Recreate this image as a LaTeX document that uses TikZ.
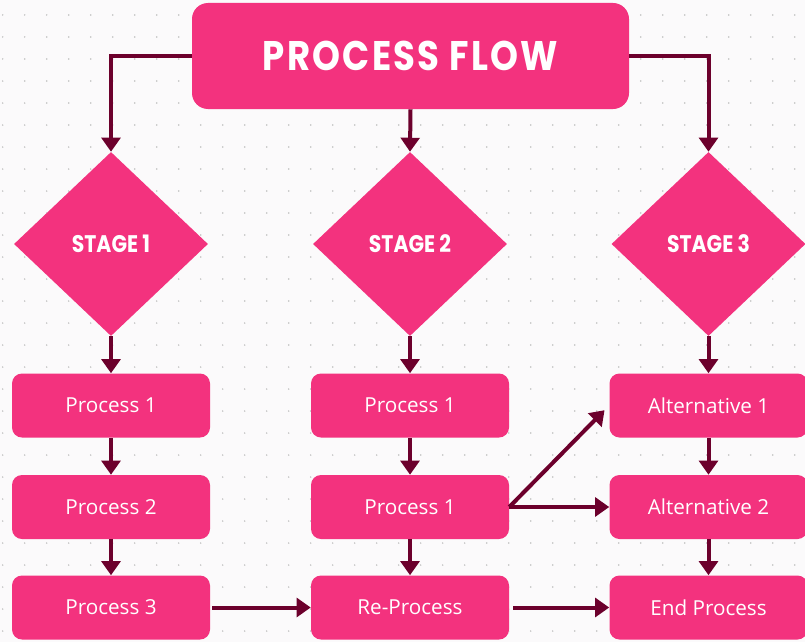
\documentclass[tikz,border=0pt]{standalone}
\usepackage{fontspec}
\usepackage{graphicx}
\setmainfont{Open Sans}
\newfontfamily\titlefont{Poppins}
\usetikzlibrary{shapes.geometric,arrows.meta}
\definecolor{pinkbox}{RGB}{243,50,126}
\definecolor{maroon}{RGB}{108,0,44}
\definecolor{bgcol}{RGB}{251,250,251}
\definecolor{dotcol}{RGB}{190,190,190}
\tikzset{
  procbox/.style={draw=none,fill=pinkbox,rounded corners=7.5pt,minimum width=148.5pt,minimum height=48pt,inner sep=0pt,text=white,font=\fontsize{15.5}{18}\selectfont},
  stagebox/.style={diamond,draw=none,fill=pinkbox,minimum width=145.5pt,minimum height=138pt,inner sep=0pt,text=white,font=\titlefont\bfseries\fontsize{18}{20}\selectfont},
  titlebox/.style={draw=none,fill=pinkbox,rounded corners=12pt,minimum width=327.75pt,minimum height=79.5pt,inner sep=0pt,text=white,font=\titlefont\bfseries\fontsize{31}{34}\selectfont},
  conn/.style={draw=maroon,line width=3pt,-{Triangle[width=14pt,length=10.5pt]}}
}
\begin{document}
\begin{tikzpicture}[x=0.75pt,y=-0.75pt]
\useasboundingbox (0,0) rectangle (805,642);
\fill[bgcol] (0,0) rectangle (805,642);
\foreach \i in {0,...,36}{
  \foreach \j in {0,...,28}{
    \fill[dotcol] ({2.7+22*\i},{15+22*\j}) circle (0.8);
  }
}
\node[titlebox] (title) at (410.5,56) {\scalebox{0.86}[1]{P\kern2pt R\kern2pt O\kern2pt C\kern2pt E\kern2pt S\kern2pt S\kern2pt\ F\kern2pt L\kern2pt O\kern2pt W}};
\node[stagebox] (d1) at (111,244) {\raisebox{-1pt}{\scalebox{0.85}[1]{STAGE 1}}};
\node[stagebox] (d2) at (410,244) {\raisebox{-1pt}{\scalebox{0.85}[1]{STAGE 2}}};
\node[stagebox] (d3) at (708.5,244) {\raisebox{-1pt}{\scalebox{0.85}[1]{STAGE 3}}};
\node[procbox] (a1) at (111,405.5) {Process 1};
\node[procbox] (a2) at (111,507) {Process 2};
\node[procbox] (a3) at (111,607.5) {Process 3};
\node[procbox] (b1) at (410,405.5) {Process 1};
\node[procbox] (b2) at (410,507) {Process 1};
\node[procbox] (b3) at (410,607.5) {Re-Process};
\node[procbox] (c1) at (708.5,405.5) {Alternative 1};
\node[procbox] (c2) at (708.5,507) {Alternative 2};
\node[procbox] (c3) at (708.5,607.5) {End Process};
\draw[conn] (title.west) -| (d1.north);
\draw[conn] (title.south) -- (d2.north);
\draw[conn] (title.east) -| (d3.north);
\draw[conn] (d1.south) -- (a1.north);
\draw[conn] (d2.south) -- (b1.north);
\draw[conn] (d3.south) -- (c1.north);
\draw[conn] (a1) -- (a2);
\draw[conn] (a2) -- (a3);
\draw[conn] (b1) -- (b2);
\draw[conn] (b2) -- (b3);
\draw[conn] (c1) -- (c2);
\draw[conn] (c2) -- (c3);
\draw[conn,shorten <=1.5pt] (a3.east) -- (b3.west);
\draw[conn,shorten <=3pt] (b3.east) -- (c3.west);
\draw[conn] (b2.east) -- (c2.west);
\draw[conn] (b2.east) -- ([xshift=-3.5pt,yshift=-3.5pt]c1.west);
\end{tikzpicture}
\end{document}
